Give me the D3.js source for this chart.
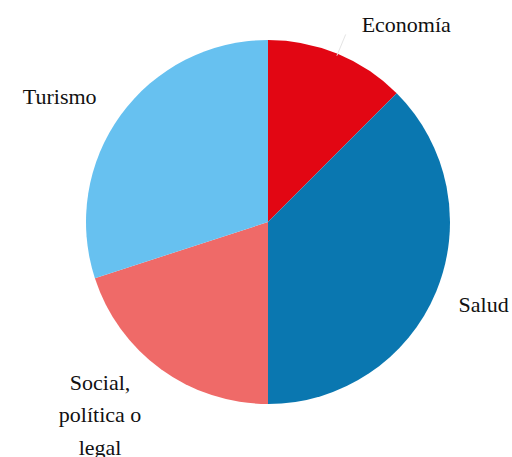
<!DOCTYPE html>
<html>
<head>
    <script src="https://d3js.org/d3.v7.min.js"></script>
    <style>
        body, html { margin: 0; padding: 0; background: #fff; }
        svg text.slice-label {
            font-family: "Liberation Serif", "Times New Roman", Tinos, "DejaVu Serif", serif !important;
        }
    </style>
</head>
<body>
<script>
    // Chart data
    const categories = ["Economía", "Salud", "Social, política o legal", "Turismo"];
    const shares = [12.5, 37.5, 20, 30];
    const colors = ["#e20613", "#0a77b0", "#ef6a68", "#67c1f0"];
    // label lines (wrapped as in the original)
    const labelLines = [["Economía"], ["Salud"], ["Social,", "política o", "legal"], ["Turismo"]];

    const width = 512, height = 457;
    const cx = 268, cy = 222, radius = 182;

    const svg = d3.select("body").append("svg")
        .attr("width", width)
        .attr("height", height);

    const g = svg.append("g").attr("transform", `translate(${cx},${cy})`);

    const data = categories.map((c, i) => ({ name: c, value: shares[i], color: colors[i], lines: labelLines[i] }));

    const pie = d3.pie().value(d => d.value).sort(null);
    const arc = d3.arc().innerRadius(0).outerRadius(radius);
    const arcs = pie(data);

    g.selectAll("path")
        .data(arcs)
        .join("path")
        .attr("d", arc)
        .attr("fill", d => d.data.color);

    // faint leader line for Economía
    const la = 22.5 * Math.PI / 180;
    g.append("line")
        .attr("x1", Math.sin(la) * (radius - 2))
        .attr("y1", -Math.cos(la) * (radius - 2))
        .attr("x2", Math.sin(la) * (radius + 21))
        .attr("y2", -Math.cos(la) * (radius + 21))
        .attr("stroke", "#e4e4e4")
        .attr("stroke-width", 1);

    // label placement: angle (deg, clockwise from top) and radius, tuned by eye
    const labelPos = [
        { a: 35, r: 241 },
        { a: 111, r: 231 },
        { a: 221, r: 256 },
        { a: 301, r: 243 }
    ];
    const lineH = 32.5;
    const fontSize = 22;

    const labelRows = [];
    arcs.forEach((d, i) => {
        const p = labelPos[i];
        const ang = p.a * Math.PI / 180;
        const x = cx + Math.sin(ang) * p.r;
        const y0 = cy - Math.cos(ang) * p.r - (d.data.lines.length - 1) * lineH / 2 + fontSize * 0.33;
        d.data.lines.forEach((ln, k) => labelRows.push({ text: ln, x: x, y: y0 + k * lineH }));
    });

    svg.selectAll("text")
        .data(labelRows)
        .join("text")
        .attr("class", "slice-label")
        .attr("x", d => d.x)
        .attr("y", d => d.y)
        .attr("font-size", fontSize)
        .attr("font-family", "Liberation Serif, serif")
        .attr("fill", "#111")
        .attr("text-anchor", "middle")
        .text(d => d.text);
</script>
</body>
</html>
